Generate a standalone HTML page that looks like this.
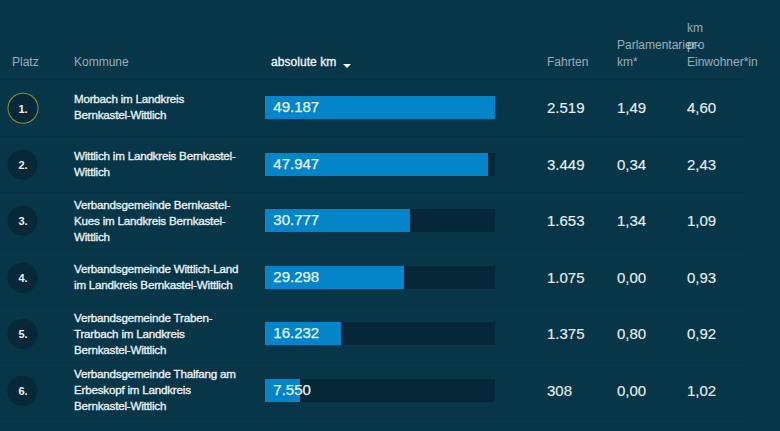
<!DOCTYPE html>
<html lang="de">
<head>
<meta charset="utf-8">
<title>Ranking</title>
<style>
html,body{margin:0;padding:0;}
body{width:780px;height:431px;overflow:hidden;background:#063648;font-family:"Liberation Sans",sans-serif;color:#fff;position:relative;}
.line{position:absolute;left:0;width:744px;height:1px;background:#053143;}
.h{position:absolute;margin-top:1.3px;font-size:12px;line-height:16.8px;color:rgba(255,255,255,.6);white-space:nowrap;}
.h.act{color:#f4f8fa;-webkit-text-stroke:.3px #f4f8fa;letter-spacing:.05px;}
.row{position:absolute;left:0;width:744px;height:56px;}
.rank{position:absolute;left:7px;top:13px;width:30px;height:30px;border-radius:50%;background:#062838;font-size:11px;font-weight:bold;line-height:31px;text-indent:1px;text-align:center;color:#eef3f5;transform:translate(.5px,.8px);}
.rank.first{box-shadow:0 0 0 1px rgba(150,180,60,.8);width:29px;height:29px;left:7.5px;top:13.7px;line-height:31.5px;}
.name{position:absolute;left:74px;width:200px;font-size:11.6px;line-height:16px;color:#e9eff2;letter-spacing:-.2px;-webkit-text-stroke:.35px #e9eff2;white-space:nowrap;}
.track{position:absolute;left:265px;top:17px;width:229.6px;height:23px;background:#052738;}
.fill{position:absolute;left:0;top:0;height:23px;background:#0485c9;}
.bv{position:absolute;left:8.3px;top:-1px;-webkit-text-stroke:.25px #e9f4fb;line-height:23px;font-size:15px;color:#e9f4fb;}
.v{position:absolute;top:17px;line-height:23px;font-size:15px;color:#e8eef1;-webkit-text-stroke:.15px #e8eef1;}
.c1{left:547px}.c2{left:617px}.c3{left:687px}
</style>
</head>
<body>
<div class="h" style="left:12px;top:53px">Platz</div>
<div class="h" style="left:74px;top:53px">Kommune</div>
<div class="h act" style="left:271px;top:53px">absolute km <svg width="8" height="4" viewBox="0 0 8 4" style="margin-left:3.5px;vertical-align:-1.5px"><path d="M0 0h8L4 4z" fill="#fff"/></svg></div>
<div class="h" style="left:547px;top:53px">Fahrten</div>
<div class="h" style="left:617px;top:36px">Parlamentarier-<br>km*</div>
<div class="h" style="left:687px;top:19px">km<br>pro<br>Einwohner*in</div>
<div class="line" style="top:79.30px"></div>

<div class="row" style="top:79.00px"><div class="rank first">1.</div><div class="name" style="top:12.4px">Morbach im Landkreis<br>Bernkastel-Wittlich</div><div class="track"><div class="fill" style="width:229.6px"></div><div class="bv">49.187</div></div><div class="v c1">2.519</div><div class="v c2">1,49</div><div class="v c3">4,60</div></div>
<div class="line" style="top:135.78px"></div>
<div class="row" style="top:135.58px"><div class="rank">2.</div><div class="name" style="top:12.4px">Wittlich im Landkreis Bernkastel-<br>Wittlich</div><div class="track"><div class="fill" style="width:223.0px"></div><div class="bv">47.947</div></div><div class="v c1">3.449</div><div class="v c2">0,34</div><div class="v c3">2,43</div></div>
<div class="line" style="top:192.26px"></div>
<div class="row" style="top:192.16px"><div class="rank">3.</div><div class="name" style="top:4.6px">Verbandsgemeinde Bernkastel-<br>Kues im Landkreis Bernkastel-<br>Wittlich</div><div class="track"><div class="fill" style="width:145.0px"></div><div class="bv">30.777</div></div><div class="v c1">1.653</div><div class="v c2">1,34</div><div class="v c3">1,09</div></div>
<div class="line" style="top:248.74px"></div>
<div class="row" style="top:248.74px"><div class="rank">4.</div><div class="name" style="top:12.4px">Verbandsgemeinde Wittlich-Land<br>im Landkreis Bernkastel-Wittlich</div><div class="track"><div class="fill" style="width:138.5px"></div><div class="bv">29.298</div></div><div class="v c1">1.075</div><div class="v c2">0,00</div><div class="v c3">0,93</div></div>
<div class="line" style="top:305.22px"></div>
<div class="row" style="top:305.32px"><div class="rank">5.</div><div class="name" style="top:4.6px">Verbandsgemeinde Traben-<br>Trarbach im Landkreis<br>Bernkastel-Wittlich</div><div class="track"><div class="fill" style="width:76.0px"></div><div class="bv">16.232</div></div><div class="v c1">1.375</div><div class="v c2">0,80</div><div class="v c3">0,92</div></div>
<div class="line" style="top:361.70px"></div>
<div class="row" style="top:361.90px"><div class="rank">6.</div><div class="name" style="top:4.6px">Verbandsgemeinde Thalfang am<br>Erbeskopf im Landkreis<br>Bernkastel-Wittlich</div><div class="track"><div class="fill" style="width:35.4px"></div><div class="bv">7.550</div></div><div class="v c1">308</div><div class="v c2">0,00</div><div class="v c3">1,02</div></div>
<div class="line" style="top:418.18px"></div>
</body>
</html>
